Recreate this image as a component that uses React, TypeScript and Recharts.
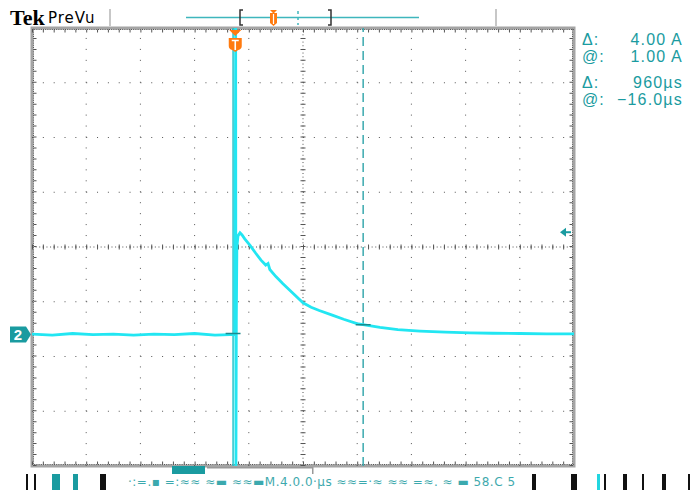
import React from 'react';
import { LineChart, Line, XAxis, YAxis, ReferenceLine, ReferenceArea, ReferenceDot } from 'recharts';

// ---- axis setup (time in µs, current in A) ----
const X_MIN = -1500;
const X_MAX = 2500;
const X_DIV = 400;
const Y_MIN = -2.4;
const Y_MAX = 5.6;
const Y_DIV = 1;

// ---- trace (CH2) ----
const traceTime = [-1500, -1350, -1200, -1050, -900, -750, -600, -450, -300, -150, -40, -2, 3, 5, 8, 12, 20, 35, 50, 70, 109, 150, 190, 225, 242, 255, 300, 352, 420, 500, 560, 620, 721, 800, 898, 1000, 1068, 1200, 1363, 1550, 1732, 1900, 2101, 2300, 2500];
const traceAmps = [0.01, -0.01, 0.02, 0.0, 0.01, -0.01, 0.01, 0.0, 0.02, -0.01, 0.0, 0.0, 5.6, -2.4, 0.3, 1.6, 1.8, 1.86, 1.82, 1.75, 1.63, 1.49, 1.36, 1.27, 1.3, 1.19, 1.06, 0.93, 0.77, 0.58, 0.5, 0.44, 0.35, 0.28, 0.2, 0.16, 0.13, 0.09, 0.065, 0.045, 0.03, 0.025, 0.02, 0.015, 0.015];

// ---- cursors & markers ----
const cursorTimes = [-16, 944];
const cursorAmps = [0.02, 0.18];
const triggerTime = 0;
const triggerLevel = 1.87;
const groundLevel = 0;

const readLabels = ['Δ:', '@:', 'Δ:', '@:'];
const readValues = ['4.00 A', '1.00 A', '960µs', '−16.0µs'];

const data = traceTime.map((t, i) => ({ t, a: traceAmps[i] }));

const range = (a: number, b: number, step: number) => {
  const out: number[] = [];
  const n = Math.round((b - a) / step);
  for (let i = 0; i <= n; i++) out.push(Number((a + i * step).toFixed(4)));
  return out;
};
const majorX = range(X_MIN, X_MAX, X_DIV).slice(1, -1);
const majorY = range(Y_MIN, Y_MAX, Y_DIV).slice(1, -1);
const centerX = (X_MIN + X_MAX) / 2;
const centerY = (Y_MIN + Y_MAX) / 2;

const W = 691;
const H = 493;
const M = { top: 28, right: 117, bottom: 27, left: 32 };
const PX_X = (W - M.left - M.right) / (X_MAX - X_MIN); // px per µs
const PX_Y = (H - M.top - M.bottom) / (Y_MAX - Y_MIN); // px per A
const minorXpx = (X_DIV / 5) * PX_X;
const minorYpx = (Y_DIV / 5) * PX_Y;

const TEAL = '#1a9ba0';
const TRACE = '#22e6f2';
const CURSOR = '#22c4cc';
const ORANGE = '#ff7b10';
const GRID = '#555555';
const FRAME = '#a4a4a4';

const TriggerMark = (p: any) => {
  const { cx, cy } = p;
  if (cx == null) return null;
  return (
    <g>
      <path d={`M${cx - 6},${cy + 2} L${cx + 6},${cy + 2} L${cx},${cy + 8} Z`} fill={ORANGE} />
      <path d={`M${cx - 6.5},${cy + 10} L${cx + 6.5},${cy + 10} L${cx + 6.5},${cy + 18} Q${cx + 6.5},${cy + 21} ${cx + 3},${cy + 22} L${cx},${cy + 24} L${cx - 3},${cy + 22} Q${cx - 6.5},${cy + 21} ${cx - 6.5},${cy + 18} Z`} fill={ORANGE} />
      <path d={`M${cx - 3.5},${cy + 12.5} L${cx + 3.5},${cy + 12.5} M${cx},${cy + 12.5} L${cx},${cy + 22}`} stroke="#ffffff" strokeWidth={1.6} fill="none" />
    </g>
  );
};

const GroundMark = (p: any) => {
  const { cx, cy } = p;
  if (cx == null) return null;
  return (
    <g>
      <path d={`M${cx - 22},${cy - 8} L${cx - 6},${cy - 8} L${cx - 1},${cy} L${cx - 6},${cy + 8} L${cx - 22},${cy + 8} Z`} fill={TEAL} />
      <text x={cx - 14} y={cy + 5.5} textAnchor="middle" fill="#ffffff" fontFamily="Liberation Sans, Arial, sans-serif" fontWeight="bold" fontSize={15}>2</text>
    </g>
  );
};

const LevelMark = (p: any) => {
  const { cx, cy } = p;
  if (cx == null) return null;
  return (
    <g>
      <path d={`M${cx - 14},${cy} L${cx - 8},${cy - 4.5} L${cx - 8},${cy + 4.5} Z`} fill={TEAL} />
      <line x1={cx - 9} y1={cy} x2={cx - 3} y2={cy} stroke={TEAL} strokeWidth={2} />
    </g>
  );
};

const insetX = 3 / PX_X;
const insetY = 3 / PX_Y;

export default function App() {
  return (
    <div style={{ position: 'absolute', left: 0, top: 0, width: W, height: H, background: '#ffffff' }}>
      <LineChart width={W} height={H} data={data} margin={M}>
        <XAxis dataKey="t" type="number" domain={[X_MIN, X_MAX]} allowDataOverflow hide />
        <YAxis type="number" domain={[Y_MIN, Y_MAX]} allowDataOverflow hide />

        {majorX.filter((x) => x !== centerX).map((x) => (
          <ReferenceLine key={'gx' + x} segment={[{ x, y: Y_MIN }, { x, y: Y_MAX }]} stroke={GRID} strokeWidth={1} strokeDasharray={`1 ${minorYpx - 1}`} />
        ))}
        {majorY.filter((y) => y !== centerY).map((y) => (
          <ReferenceLine key={'gy' + y} segment={[{ x: X_MIN, y }, { x: X_MAX, y }]} stroke={GRID} strokeWidth={1} strokeDasharray={`1 ${minorXpx - 1}`} />
        ))}

        {/* center cross: fine dots + minor ticks */}
        <ReferenceLine segment={[{ x: X_MIN, y: centerY }, { x: X_MAX, y: centerY }]} stroke={GRID} strokeWidth={1} strokeDasharray={`1 ${minorXpx / 3 - 1}`} />
        <ReferenceLine segment={[{ x: X_MIN, y: centerY }, { x: X_MAX, y: centerY }]} stroke={GRID} strokeWidth={5} strokeDasharray={`1 ${minorXpx - 1}`} />
        <ReferenceLine segment={[{ x: centerX, y: Y_MIN }, { x: centerX, y: Y_MAX }]} stroke={GRID} strokeWidth={1} strokeDasharray={`1 ${minorYpx / 3 - 1}`} />
        <ReferenceLine segment={[{ x: centerX, y: Y_MIN }, { x: centerX, y: Y_MAX }]} stroke={GRID} strokeWidth={5} strokeDasharray={`1 ${minorYpx - 1}`} />

        {/* edge ticks */}
        <ReferenceLine segment={[{ x: X_MIN, y: Y_MAX - insetY }, { x: X_MAX, y: Y_MAX - insetY }]} stroke={GRID} strokeWidth={3} strokeDasharray={`1 ${minorXpx - 1}`} />
        <ReferenceLine segment={[{ x: X_MIN, y: Y_MIN + insetY }, { x: X_MAX, y: Y_MIN + insetY }]} stroke={GRID} strokeWidth={3} strokeDasharray={`1 ${minorXpx - 1}`} />
        <ReferenceLine segment={[{ x: X_MIN + insetX, y: Y_MIN }, { x: X_MIN + insetX, y: Y_MAX }]} stroke={GRID} strokeWidth={3} strokeDasharray={`1 ${minorYpx - 1}`} />
        <ReferenceLine segment={[{ x: X_MAX - insetX, y: Y_MIN }, { x: X_MAX - insetX, y: Y_MAX }]} stroke={GRID} strokeWidth={3} strokeDasharray={`1 ${minorYpx - 1}`} />
        <ReferenceLine segment={[{ x: X_MIN, y: Y_MAX - insetY / 2 }, { x: X_MAX, y: Y_MAX - insetY / 2 }]} stroke={GRID} strokeWidth={1} strokeDasharray="1 1.2" />
        <ReferenceLine segment={[{ x: X_MIN, y: Y_MIN + insetY / 2 }, { x: X_MAX, y: Y_MIN + insetY / 2 }]} stroke={GRID} strokeWidth={1} strokeDasharray="1 1.2" />
        <ReferenceLine segment={[{ x: X_MIN + insetX / 2, y: Y_MIN }, { x: X_MIN + insetX / 2, y: Y_MAX }]} stroke={GRID} strokeWidth={1} strokeDasharray="1 1.2" />
        <ReferenceLine segment={[{ x: X_MAX - insetX / 2, y: Y_MIN }, { x: X_MAX - insetX / 2, y: Y_MAX }]} stroke={GRID} strokeWidth={1} strokeDasharray="1 1.2" />

        {/* frame */}
        <ReferenceArea x1={X_MIN} x2={X_MAX} y1={Y_MIN} y2={Y_MAX} fill="none" fillOpacity={0} stroke={FRAME} strokeWidth={3} strokeOpacity={1} />

        {/* vertical cursors */}
        <ReferenceLine segment={[{ x: cursorTimes[0], y: Y_MIN }, { x: cursorTimes[0], y: Y_MAX }]} stroke={CURSOR} strokeWidth={1.5} />
        <ReferenceLine segment={[{ x: cursorTimes[1], y: Y_MIN }, { x: cursorTimes[1], y: Y_MAX }]} stroke="#3aa9ae" strokeWidth={1.5} strokeDasharray="9 5" />

        <Line dataKey="a" type="linear" stroke={TRACE} strokeWidth={2.8} dot={false} isAnimationActive={false} />

        {/* cursor readout ticks on the waveform */}
        {cursorTimes.map((t, i) => (
          <ReferenceLine key={'ct' + i} segment={[{ x: t - 55, y: cursorAmps[i] }, { x: t + 55, y: cursorAmps[i] }]} stroke="#1a8a8e" strokeWidth={1.5} />
        ))}

        <ReferenceDot x={triggerTime} y={Y_MAX} r={0} shape={TriggerMark} />
        <ReferenceDot x={X_MIN} y={groundLevel} r={0} shape={GroundMark} />
        <ReferenceDot x={X_MAX} y={triggerLevel} r={0} shape={LevelMark} />
      </LineChart>

      <svg width={W} height={H} style={{ position: 'absolute', left: 0, top: 0, pointerEvents: 'none' }}>
        {/* header */}
        <text x={10} y={25} fontFamily="Liberation Serif, serif" fontWeight="bold" fontSize={22} fill="#000">Tek</text>
        <text x={48} y={23} fontFamily="DejaVu Sans, sans-serif" fontSize={15} letterSpacing={1} fill="#000">PreVu</text>
        <line x1={110} y1={9} x2={110} y2={26} stroke="#b4b4b4" strokeWidth={1.5} />
        <line x1={496} y1={9} x2={496} y2={26} stroke="#b4b4b4" strokeWidth={1.5} />
        <line x1={186} y1={17.5} x2={419} y2={17.5} stroke="#3fb6bd" strokeWidth={1.5} />
        <path d="M243,10 L240,10 L240,25 L243,25" stroke="#333" strokeWidth={1.5} fill="none" />
        <path d="M328,10 L331,10 L331,25 L328,25" stroke="#333" strokeWidth={1.5} fill="none" />
        <path d="M270,10 L277,10 L274,13 L277,13 L277,23 L273.5,26 L270,23 L270,13 L273,13 Z" fill={ORANGE} />
        <line x1={273.5} y1={14} x2={273.5} y2={24} stroke="#fff" strokeWidth={1.2} />
        <line x1={298} y1={11} x2={298} y2={25} stroke="#3fb6bd" strokeWidth={1.5} strokeDasharray="3 3" />

        {/* readouts */}
        {readLabels.map((l, i) => {
          const y = [45, 62, 88, 105][i];
          return (
            <g key={'r' + i} fontFamily="Liberation Sans, Arial, sans-serif" fontSize={16} fill={TEAL}>
              <text x={582} y={y} letterSpacing={1}>{l}</text>
              <text x={683} y={y} textAnchor="end" letterSpacing={1.2}>{readValues[i]}</text>
            </g>
          );
        })}

        {/* garbled status bar */}
        <g>
          <rect x={26} y={474} width={2} height={16} fill="#111" />
          <rect x={34} y={474} width={2} height={16} fill="#111" />
          <rect x={52} y={474} width={8} height={16} fill={TEAL} />
          <rect x={73} y={474} width={5} height={16} fill={TEAL} />
          <rect x={100} y={474} width={6} height={16} fill="#111" />
          <rect x={172} y={466} width={33} height={8} fill={TEAL} />
          <rect x={207} y={467} width={105} height={1.5} fill="#999" />
          <rect x={312} y={467} width={1.5} height={7} fill="#999" />
          <text x={128} y={486} fontFamily="DejaVu Sans, sans-serif" fontSize={12} fill={TEAL} letterSpacing={0.5} opacity={0.85}>
            {'·:=.▪ =:≈≈ ≈▬ ≈≈▬M.4.0.0·µs ≈≈=·≈ ≈≈ =≈. ≈ ▬ 58.C 5'}
          </text>
          <rect x={532} y={474} width={4} height={16} fill="#111" />
          <rect x={571} y={474} width={6} height={16} fill="#111" />
          <rect x={597} y={474} width={3} height={16} fill="#22d6e0" />
          <rect x={604} y={474} width={2} height={16} fill="#111" />
          <rect x={623} y={474} width={4} height={16} fill="#111" />
          <rect x={642} y={474} width={2} height={16} fill="#111" />
          <rect x={662} y={474} width={4} height={16} fill="#111" />
          <rect x={688} y={474} width={2} height={16} fill="#111" />
        </g>
      </svg>
    </div>
  );
}
